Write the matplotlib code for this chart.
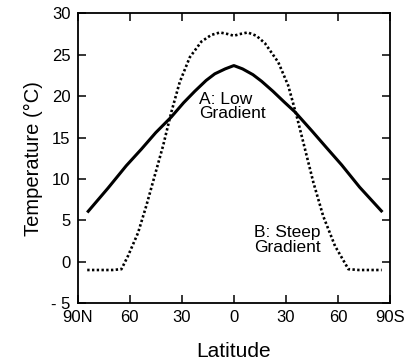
import matplotlib
matplotlib.use("Agg")
import matplotlib.pyplot as plt

# Latitude: negative = North, positive = South
lat_low = [-84.5, -72.5, -62.0, -53.3, -45.0, -36.0, -29.0, -22.5, -16.0, -11.0, -5.0, 0.0,
           5.0, 11.0, 16.0, 22.5, 29.0, 35.2, 45.0, 53.3, 62.1, 72.5, 85.6]
temp_low = [5.95, 8.9, 11.6, 13.6, 15.6, 17.5, 19.2, 20.6, 21.9, 22.7, 23.3, 23.7,
            23.3, 22.6, 21.8, 20.6, 19.3, 18.1, 15.8, 13.8, 11.7, 9.0, 6.0]

lat_steep = [-84.5, -70.0, -64.8, -61.0, -55.2, -50.4, -45.6, -40.8, -36.0, -31.2, -25.4,
             -18.7, -13.0, -8.0, -3.3, 0.0, 3.3, 8.0, 13.0, 17.9, 25.6, 31.3, 36.2, 41.0,
             45.8, 51.5, 58.3, 63.0, 66.0, 72.0, 85.2]
temp_steep = [-1.0, -1.0, -0.9, 0.7, 3.5, 6.8, 10.4, 14.0, 18.1, 21.7, 24.7,
              26.6, 27.4, 27.7, 27.5, 27.3, 27.5, 27.7, 27.3, 26.4, 24.1, 21.3, 17.6, 13.6,
              9.6, 5.5, 1.9, 0.2, -0.9, -1.0, -1.0]

xticks = [-90, -60, -30, 0, 30, 60, 90]
xticklabels = ["90N", "60", "30", "0", "30", "60", "90S"]
yticks = [-5, 0, 5, 10, 15, 20, 25, 30]
yticklabels = ["- 5", "0", "5", "10", "15", "20", "25", "30"]

plt.rcParams['font.family'] = ['Liberation Sans', 'DejaVu Sans']

fig = plt.figure(figsize=(4.11, 3.63), dpi=100)
ax = fig.add_axes([0.189, 0.165, 0.760, 0.798])

ax.plot(lat_low, temp_low, color='black', linewidth=2.2, solid_capstyle='butt')
ax.plot(lat_steep, temp_steep, color='black', linewidth=1.9,
        linestyle=(0, (0.9, 0.9)), dash_capstyle='butt')

ax.set_xlim(-90, 90)
ax.set_ylim(-5, 30)
ax.set_xticks(xticks)
ax.set_xticklabels(xticklabels)
ax.set_yticks(yticks)
ax.set_yticklabels(yticklabels)

ax.tick_params(direction='in', top=True, right=True, length=6, width=1.1,
               labelsize=12, colors='black')
ax.tick_params(axis='y', pad=5)
ax.tick_params(axis='x', pad=5)
for s in ax.spines.values():
    s.set_linewidth(1.3)

ax.set_xlabel("Latitude", fontsize=15, labelpad=12)
ax.set_ylabel("Temperature (°C)", fontsize=14.5, labelpad=6)

ax.text(-19.8, 20.5, "A: Low\nGradient", fontsize=12.5, ha='left', va='top', linespacing=0.95)
ax.text(11.5, 4.4, "B: Steep\nGradient", fontsize=12.5, ha='left', va='top', linespacing=0.95)

fig.savefig("out.png", dpi=100)
